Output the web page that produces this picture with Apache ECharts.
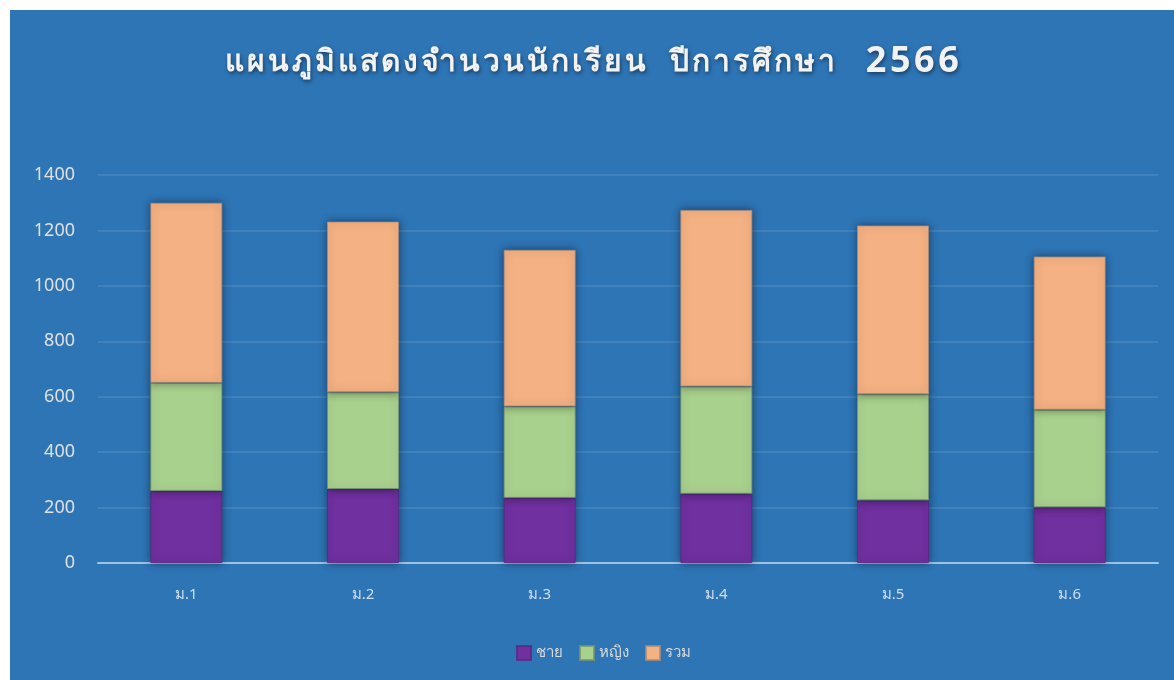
<!DOCTYPE html>
<html>
<head>
<meta charset="utf-8">
<script src="https://cdn.jsdelivr.net/npm/echarts@6/dist/echarts.min.js"></script>
<style>
html,body{margin:0;padding:0;background:#fff;}
#chart{position:absolute;left:10px;top:10px;width:1164px;height:670px;}
</style>
</head>
<body>
<div id="chart"></div>
<script>
var classes = ['ม.1', 'ม.2', 'ม.3', 'ม.4', 'ม.5', 'ม.6'];
var boys = [260, 267, 235, 250, 226, 201];
var girls = [390, 349, 330, 387, 383, 352];
var totals = [650, 616, 565, 637, 609, 553];
var yTicks = [0, 200, 400, 600, 800, 1000, 1200, 1400];

var titleMain = 'แผนภูมิแสดงจำนวนนักเรียน';
var titleYear = 'ปีการศึกษา';
var titleNum = '2566';

// spread the letters a bit, like the letter spacing of the original title
function spread(s) {
    if (window.Intl && Intl.Segmenter) {
        var seg = new Intl.Segmenter('th', {granularity: 'grapheme'});
        return Array.from(seg.segment(s), function (x) { return x.segment; }).join('\u200A');
    }
    return s;
}

var barShadow = {
    shadowBlur: 8,
    shadowColor: 'rgba(0,0,0,0.45)',
    shadowOffsetX: 0,
    shadowOffsetY: 0,
    borderWidth: 1
};

function makeSeries(name, data, color, border) {
    return {
        name: name,
        type: 'bar',
        stack: 'all',
        barWidth: 72,
        data: data,
        itemStyle: Object.assign({color: color, borderColor: border}, barShadow)
    };
}

var titleStyle = {
    fontWeight: 'bold',
    color: '#F2F2F2',
    textShadowColor: 'rgba(0,0,0,0.5)',
    textShadowBlur: 4,
    textShadowOffsetX: 1,
    textShadowOffsetY: 2
};

var myChart = echarts.init(document.getElementById('chart'));
var option = {
    backgroundColor: '#2E75B6',
    textStyle: {fontFamily: 'Tahoma, "Noto Sans", "DejaVu Sans", sans-serif'},
    title: {
        text: '{a|' + spread(titleMain) + '   ' + spread(titleYear) + '    }{b|' + spread(titleNum) + '}',
        left: 'center',
        top: 29,
        textStyle: {
            rich: {
                a: Object.assign({fontSize: 30}, titleStyle),
                b: Object.assign({fontSize: 36}, titleStyle)
            }
        }
    },
    legend: {
        bottom: 14,
        left: 501,
        itemWidth: 14,
        itemHeight: 14,
        itemGap: 16,
        icon: 'rect',
        textStyle: {color: '#D9D9D9', fontSize: 15},
        data: ['ชาย', 'หญิง', 'รวม']
    },
    grid: {left: 88, right: 16, top: 165, bottom: 117},
    xAxis: {
        type: 'category',
        data: classes,
        axisLine: {lineStyle: {color: '#9DC3E6', width: 2}},
        axisTick: {show: false},
        axisLabel: {color: '#D0DEEE', fontSize: 15, margin: 24}
    },
    yAxis: {
        type: 'value',
        min: yTicks[0],
        max: yTicks[yTicks.length - 1],
        interval: 200,
        axisLine: {show: false},
        axisTick: {show: false},
        axisLabel: {
            color: '#E0E0E0',
            fontSize: 18,
            margin: 23,
            formatter: function (v) { return String(v); }
        },
        splitLine: {lineStyle: {color: 'rgba(255,255,255,0.13)', width: 1.5}}
    },
    series: [
        makeSeries('ชาย', boys, '#7030A0', 'rgba(90,40,130,0.8)'),
        makeSeries('หญิง', girls, '#A9D18E', 'rgba(120,150,110,0.8)'),
        makeSeries('รวม', totals, '#F4B183', 'rgba(170,140,120,0.8)')
    ]
};
myChart.setOption(option);
</script>
</body>
</html>
